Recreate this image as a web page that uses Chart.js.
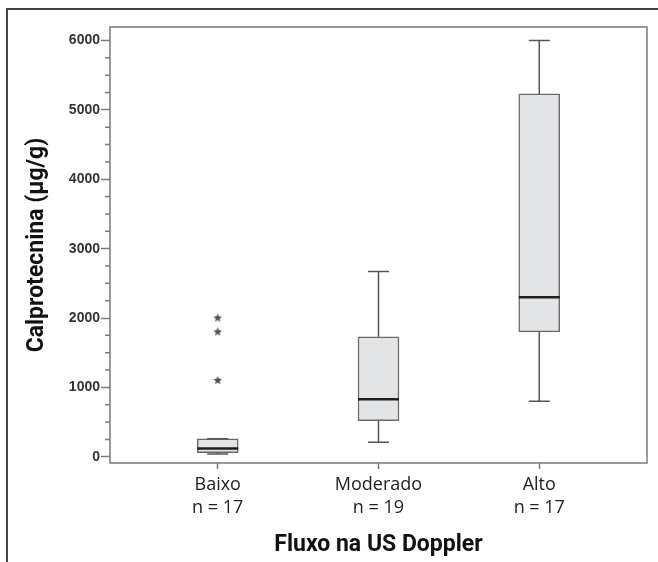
<!DOCTYPE html>
<html>
<head>
<meta charset="utf-8">
<script src="https://cdn.jsdelivr.net/npm/chart.js@4.4.1/dist/chart.umd.min.js"></script>
<style>
  body { margin: 0; background: #fff; }
  #frame { position: absolute; left: 6px; top: 8px; width: 700px; height: 600px;
           border-top: 2px solid #444; border-left: 2px solid #444; }
  #wrap { position: absolute; left: 0; top: 0; }
</style>
</head>
<body>
<div id="frame"></div>
<div id="wrap"><canvas id="myChart" width="658" height="562"></canvas></div>
<script>
const groups = ["Baixo", "Moderado", "Alto"];
const counts = [17, 19, 17];
const whiskerMin = [40, 210, 800];
const q1 = [60, 520, 1800];
const median = [120, 830, 2300];
const q3 = [260, 1730, 5230];
const whiskerMax = [260, 2670, 6000];
const outliers = [[1100, 1800, 2000], [], []];
const yTicks = [0, 1000, 2000, 3000, 4000, 5000, 6000];
const minorStep = 250;

// estrela usada para os outliers
function makeStar(size, color) {
  const c = document.createElement("canvas");
  c.width = size; c.height = size;
  const ctx = c.getContext("2d");
  const r = size / 2, ri = r * 0.45;
  ctx.beginPath();
  for (let k = 0; k < 10; k++) {
    const a = -Math.PI / 2 + k * Math.PI / 5;
    const rr = k % 2 ? ri : r;
    ctx.lineTo(r + rr * Math.cos(a), r + rr * Math.sin(a));
  }
  ctx.closePath();
  ctx.fillStyle = color;
  ctx.fill();
  return c;
}

const boxes = groups.map((g, i) => ({ x: i, y: [q1[i], q3[i]] }));
const outlierPoints = [];
outliers.forEach((list, i) => list.forEach(v => outlierPoints.push({ x: i, y: v })));

const boxPlot = {
  id: "boxPlot",
  afterDatasetsDraw(chart) {
    const { ctx, scales: { x, y } } = chart;
    const capHalf = 10.5, boxHalf = 20.5;
    ctx.save();
    ctx.strokeStyle = "#555";
    ctx.lineWidth = 1.5;
    groups.forEach((g, i) => {
      const cx = x.getPixelForValue(i);
      const yMin = y.getPixelForValue(whiskerMin[i]);
      const yQ1 = y.getPixelForValue(q1[i]);
      const yQ3 = y.getPixelForValue(q3[i]);
      const yMax = y.getPixelForValue(whiskerMax[i]);
      ctx.beginPath();
      ctx.moveTo(cx, yQ3); ctx.lineTo(cx, yMax);
      ctx.moveTo(cx, yQ1); ctx.lineTo(cx, yMin);
      ctx.moveTo(cx - capHalf, yMax); ctx.lineTo(cx + capHalf, yMax);
      ctx.moveTo(cx - capHalf, yMin); ctx.lineTo(cx + capHalf, yMin);
      ctx.stroke();
    });
    ctx.strokeStyle = "#1e1e1e";
    ctx.lineWidth = 2.5;
    groups.forEach((g, i) => {
      const cx = x.getPixelForValue(i);
      const ym = y.getPixelForValue(median[i]);
      ctx.beginPath();
      ctx.moveTo(cx - boxHalf, ym); ctx.lineTo(cx + boxHalf, ym);
      ctx.stroke();
    });
    ctx.restore();
  },
  afterDraw(chart) {
    const { ctx, chartArea: a, scales: { y } } = chart;
    ctx.save();
    ctx.strokeStyle = "#7a7a7a";
    ctx.lineWidth = 1.5;
    ctx.strokeRect(a.left, a.top, a.right - a.left, a.bottom - a.top);
    // ticks menores
    ctx.beginPath();
    for (let v = 0; v <= 6000; v += minorStep) {
      if (v % 1000 === 0) continue;
      const py = y.getPixelForValue(v);
      ctx.moveTo(a.left - 5, py); ctx.lineTo(a.left, py);
    }
    ctx.stroke();
    ctx.restore();
  }
};

new Chart(document.getElementById("myChart"), {
  type: "bar",
  data: {
    datasets: [{
      type: "bar",
      data: boxes,
      backgroundColor: "#e3e4e6",
      borderColor: "#6a6a6a",
      borderWidth: 1.5,
      borderSkipped: false,
      barThickness: 41
    }, {
      type: "scatter",
      data: outlierPoints,
      pointStyle: makeStar(9, "#505050"),
      pointRadius: 4.5
    }]
  },
  options: {
    responsive: false,
    animation: false,
    layout: { padding: { top: 27, right: 11, left: 7, bottom: 0 } },
    plugins: { legend: { display: false }, tooltip: { enabled: false } },
    scales: {
      x: {
        type: "linear",
        min: -0.67,
        max: 2.67,
        offset: false,
        afterBuildTicks: s => { s.ticks = groups.map((g, i) => ({ value: i })); },
        afterFit: s => { s.height = 99; },
        border: { display: false },
        grid: { offset: false, drawOnChartArea: false, drawTicks: true, tickLength: 6, tickColor: "#7a7a7a", tickWidth: 1.5 },
        ticks: {
          padding: 4,
          color: "#222",
          font: { family: "'Open Sans'", size: 18, lineHeight: 1.3 },
          callback: (v, i) => [groups[i], "n = " + counts[i]]
        },
        title: {
          display: true,
          text: "Fluxo na US Doppler",
          color: "#111",
          font: { family: "Roboto", size: 23, weight: "bold", lineHeight: 1.2 },
          padding: { top: 0, bottom: 3 }
        }
      },
      y: {
        min: -90,
        max: 6195,
        afterBuildTicks: s => { s.ticks = yTicks.map(v => ({ value: v })); },
        afterFit: s => { s.width = 103; },
        border: { display: false },
        grid: { drawOnChartArea: false, drawTicks: true, tickLength: 9, tickColor: "#7a7a7a", tickWidth: 1.5 },
        ticks: {
          padding: 1,
          color: "#333",
          font: { family: "'Liberation Sans'", size: 14, weight: "bold" },
          callback: v => String(v)
        },
        title: {
          display: true,
          text: "Calprotecnina (µg/g)",
          color: "#111",
          font: { family: "Roboto", size: 23, weight: "bold", lineHeight: 1.2 },
          padding: { top: 16, bottom: 0 }
        }
      }
    }
  },
  plugins: [boxPlot]
});
</script>
</body>
</html>
